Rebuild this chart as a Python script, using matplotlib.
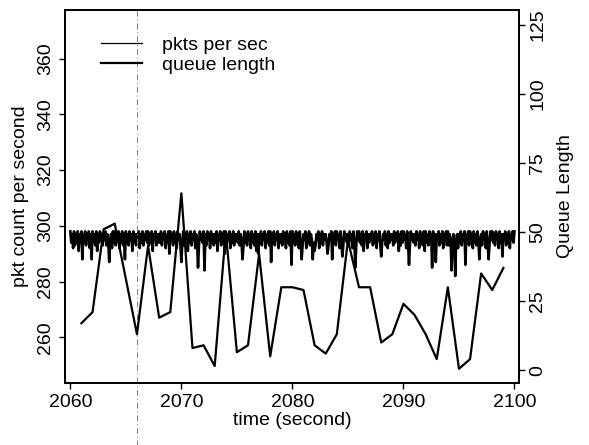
import matplotlib
matplotlib.use("Agg")
import matplotlib.pyplot as plt
import numpy as np

plt.rcParams["font.family"] = ["Liberation Sans", "DejaVu Sans"]

# packets per second, 12 samples per second, one row per second (2060..2100)
pkts = [
    298, 294, 297, 292, 298, 293, 297, 294, 298, 291, 297, 294,
    298, 288, 297, 294, 298, 293, 297, 295, 298, 292, 297, 288,
    298, 294, 297, 293, 298, 291, 297, 294, 298, 295, 297, 293,
    297, 295, 298, 293, 297, 294, 287, 295, 297, 292, 298, 294,
    298, 293, 297, 295, 298, 292, 297, 294, 298, 293, 297, 288,
    298, 294, 297, 293, 298, 295, 297, 291, 298, 294, 297, 293,
    297, 295, 298, 292, 297, 294, 298, 293, 297, 295, 298, 294,
    298, 293, 297, 294, 298, 291, 297, 295, 298, 293, 297, 294,
    297, 294, 298, 293, 297, 295, 298, 292, 297, 294, 298, 290,
    298, 295, 297, 293, 298, 294, 297, 292, 298, 295, 297, 293,
    287, 294, 298, 293, 297, 295, 298, 291, 297, 294, 298, 293,
    297, 295, 298, 292, 297, 294, 285, 293, 298, 295, 297, 294,
    298, 284, 297, 293, 298, 295, 297, 292, 298, 294, 297, 293,
    297, 294, 298, 291, 297, 295, 298, 293, 297, 294, 298, 290,
    298, 293, 297, 295, 298, 292, 297, 294, 298, 293, 297, 295,
    297, 294, 298, 293, 297, 295, 288, 292, 298, 294, 297, 293,
    298, 295, 297, 292, 298, 294, 297, 293, 298, 291, 297, 290,
    297, 294, 298, 293, 297, 295, 298, 292, 297, 294, 298, 293,
    298, 287, 297, 294, 298, 293, 297, 295, 298, 292, 297, 294,
    297, 293, 298, 295, 297, 292, 298, 294, 297, 293, 298, 286,
    298, 294, 297, 293, 298, 295, 297, 292, 298, 294, 288, 293,
    297, 295, 298, 292, 297, 294, 298, 293, 297, 295, 288, 294,
    291, 293, 297, 295, 298, 292, 297, 294, 298, 293, 297, 295,
    297, 294, 290, 293, 297, 295, 298, 288, 297, 294, 298, 293,
    298, 295, 297, 292, 298, 294, 289, 293, 298, 295, 297, 294,
    297, 293, 298, 295, 297, 292, 298, 294, 285, 293, 298, 295,
    298, 294, 297, 293, 298, 291, 297, 295, 298, 292, 297, 294,
    297, 295, 298, 293, 297, 294, 298, 292, 297, 295, 298, 293,
    289, 294, 297, 295, 298, 293, 297, 292, 298, 294, 297, 295,
    297, 293, 298, 294, 297, 295, 298, 291, 297, 293, 298, 294,
    298, 295, 297, 292, 298, 294, 286, 293, 298, 295, 297, 294,
    297, 293, 298, 295, 297, 292, 298, 294, 297, 293, 298, 291,
    298, 294, 297, 293, 298, 295, 297, 285, 298, 292, 297, 287,
    297, 295, 298, 293, 297, 294, 298, 292, 297, 295, 298, 293,
    298, 293, 297, 295, 284, 294, 297, 293, 282, 295, 297, 292,
    297, 294, 298, 293, 297, 295, 298, 286, 297, 294, 298, 293,
    298, 295, 297, 292, 298, 294, 297, 293, 298, 295, 288, 294,
    297, 293, 298, 295, 297, 292, 298, 294, 288, 293, 298, 295,
    298, 294, 297, 293, 298, 295, 297, 292, 298, 294, 297, 289,
    297, 295, 298, 293, 297, 294, 298, 292, 297, 295, 298, 294,
    298,
]
pkt_start = 2060
pkt_rate = 12

# queue length, once per second
queue_t = list(range(2061, 2100))
queue = [17, 21, 51, 53, 33, 13, 45, 19, 21, 64, 8, 9, 1.5, 50, 6.5, 9,
         42, 5, 30, 30, 29, 9, 6, 13, 47, 30, 30, 10, 13, 24, 20, 13, 4,
         30, 0.5, 4, 35, 29, 37]

marker_t = 2066

pkt_t = pkt_start + np.arange(len(pkts)) / pkt_rate

fig = plt.figure(figsize=(5.89, 4.45), dpi=100)
ax = fig.add_axes([0.110, 0.139, 0.771, 0.839])
ax2 = ax.twinx()

ln1, = ax.plot(pkt_t, pkts, color="black", lw=1.9)
ln2, = ax2.plot(queue_t, queue, color="black", lw=1.6)
ax.axvline(marker_t, ymin=-0.17, ymax=1.0, color="0.5", lw=0.7,
           ls=(0, (6, 3, 1, 3)), clip_on=False)

ax.set_xlim(2059.5, 2100.4)
ax.set_ylim(243.5, 377.6)
ax2.set_ylim(-4.7, 130.4)

ax.set_xticks([2060, 2070, 2080, 2090, 2100])
ax.set_yticks([260, 280, 300, 320, 340, 360])
ax2.set_yticks([0, 25, 50, 75, 100, 125])

fs = 14
ax.tick_params(axis="both", direction="out", length=4, width=1, labelsize=fs)
ax.tick_params(axis="y", labelrotation=90)
ax2.tick_params(axis="y", direction="out", length=4, width=1, labelsize=fs,
                labelrotation=90)
for lab in ax.get_yticklabels():
    lab.set_va("center")
for lab in ax2.get_yticklabels():
    lab.set_va("center")

for a in (ax, ax2):
    for s in a.spines.values():
        s.set_linewidth(1.3)

ax.set_xlabel("time (second)", fontsize=fs, labelpad=1)
ax.set_ylabel("pkt count per second", fontsize=fs, labelpad=6)
ax2.set_ylabel("Queue Length", fontsize=fs, labelpad=8)

leg = ax.legend([ln1, ln2], ["pkts per sec", "queue length"], loc="upper left",
                bbox_to_anchor=(0.042, 0.975), frameon=False, fontsize=fs,
                handlelength=2.1, handletextpad=1.0, labelspacing=0.1)
leg.get_lines()[0].set_linewidth(0.9)

fig.savefig("out.png", dpi=100)
